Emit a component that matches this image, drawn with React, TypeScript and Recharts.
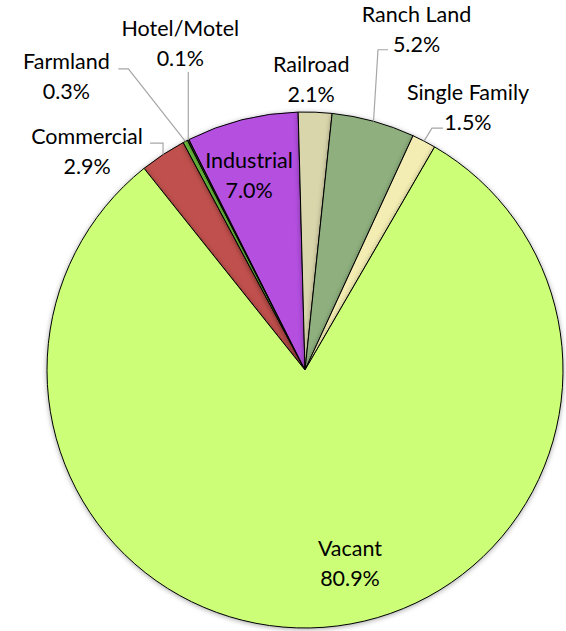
import React from "react"
import { PieChart, Pie, Cell } from "recharts"

// land use categories, clockwise from the red slice
const categories = ["Commercial", "Farmland", "Hotel/Motel", "Industrial", "Railroad", "Ranch Land", "Single Family", "Vacant"]
const shares = [2.9, 0.3, 0.1, 7.0, 2.1, 5.2, 1.5, 80.9]
const colors = ["#C0504D", "#6DC23F", "#3F3F3F", "#B44FE0", "#DAD6AC", "#8FB07E", "#F3EDB3", "#CCFF77"]

const data = categories.map((name, i) => ({ name, value: shares[i] }))

// label placement relative to the slice's outer edge point (text centre x, first baseline y)
// leader = elbow points relative to the same edge point
const labelLayout: Record<string, { dx: number; dy: number; leader?: number[][] }> = {
  Commercial: { dx: -76, dy: -11, leader: [[0, 0], [0, -11.5], [-13, -11.5]] },
  Farmland: { dx: -119, dy: -72, leader: [[0, 0], [-57, -72.5], [-67, -72.5]] },
  "Hotel/Motel": { dx: -8, dy: -104, leader: [[0, 0], [0, -68]] },
  Industrial: { dx: 7, dy: 48 },
  Railroad: { dx: -4, dy: -40 },
  "Ranch Land": { dx: 43, dy: -99, leader: [[0, 0], [4.5, -71.5], [14.5, -71.5]] },
  "Single Family": { dx: 44, dy: -41, leader: [[0, 0], [8, -13], [19, -13]] },
  Vacant: { dx: 26, dy: -71 },
}

const RADIAN = Math.PI / 180

const renderLabel = (props: any) => {
  const { cx, cy, midAngle, outerRadius, name, value } = props
  const ex = cx + outerRadius * Math.cos(-midAngle * RADIAN)
  const ey = cy + outerRadius * Math.sin(-midAngle * RADIAN)
  const lay = labelLayout[name]
  if (!lay) return null
  const tx = ex + lay.dx
  const ty = ey + lay.dy
  return (
    <g key={name}>
      {lay.leader && (
        <polyline
          points={lay.leader.map((p) => `${ex + p[0]},${ey + p[1]}`).join(" ")}
          fill="none"
          stroke="#A6A6A6"
          strokeWidth={1.2}
        />
      )}
      <text x={tx} y={ty} textAnchor="middle" fill="#000" fontSize={21.5} fontFamily="Lato, 'Open Sans', sans-serif">
        <tspan x={tx} dy={0}>{name}</tspan>
        <tspan x={tx} dy={30}>{value.toFixed(1)}%</tspan>
      </text>
    </g>
  )
}

const App = () => {
  return (
    <div style={{ position: "absolute", left: 0, top: 0, width: 566, height: 631, background: "#fff" }}>
      <style>{`.recharts-pie-sector { filter: drop-shadow(0px 1px 2.5px rgba(0,0,0,0.35)); }`}</style>
      <PieChart width={566} height={631} margin={{ top: 0, right: 0, bottom: 0, left: 0 }}>
        <Pie
          data={data}
          dataKey="value"
          nameKey="name"
          cx={305}
          cy={370}
          outerRadius={258}
          startAngle={128.6}
          endAngle={-231.4}
          stroke="#000"
          strokeWidth={1}
          label={renderLabel}
          labelLine={false}
          isAnimationActive={false}
        >
          {data.map((d, i) => (
            <Cell key={d.name} fill={colors[i]} />
          ))}
        </Pie>
      </PieChart>
    </div>
  )
}

export default App
